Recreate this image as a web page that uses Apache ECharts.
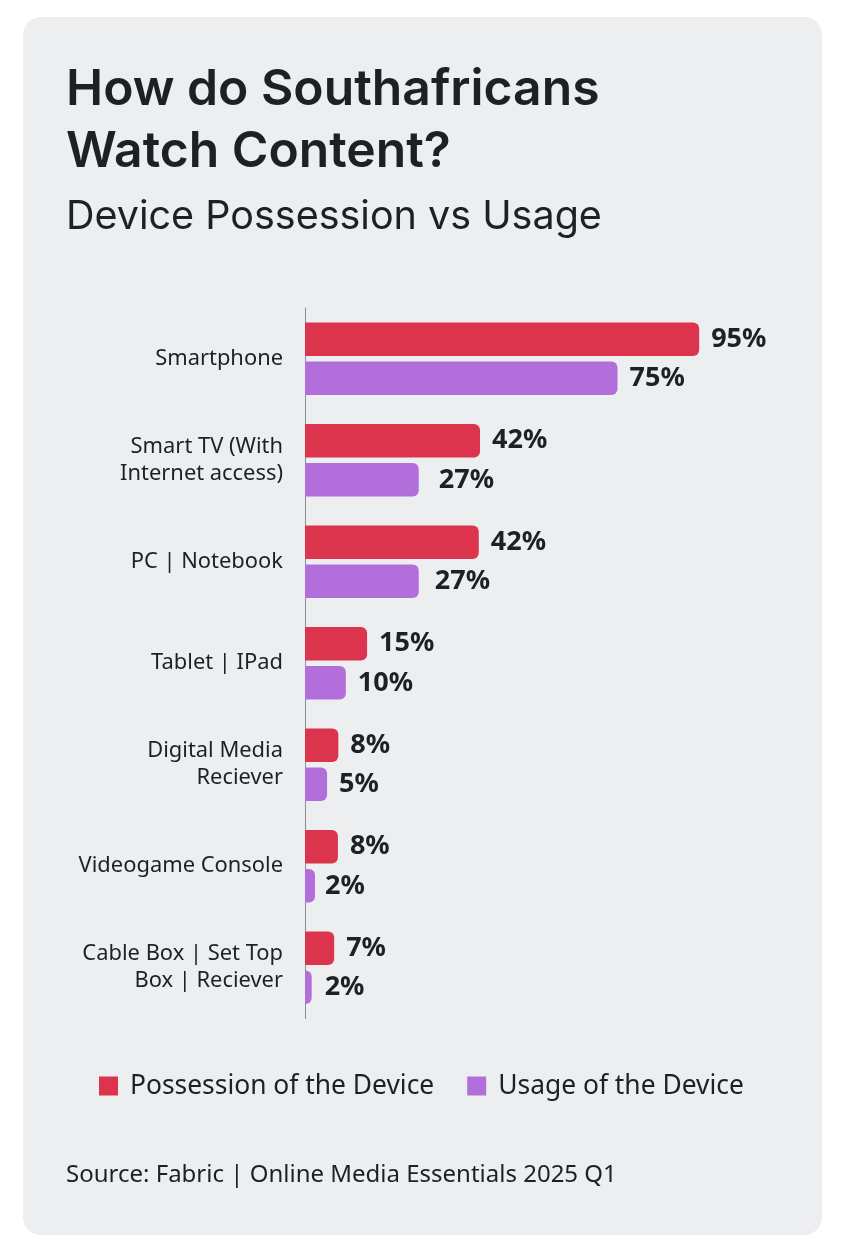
<!DOCTYPE html>
<html>
<head>
<meta charset="utf-8">
<style>
  html, body { margin: 0; padding: 0; background: #ffffff; }
  #chart { width: 845px; height: 1253px; }
</style>
</head>
<body>
<div id="chart"></div>
<script src="https://cdn.jsdelivr.net/npm/echarts@6/dist/echarts.min.js"></script>
<script>
const categories = [
  'Smartphone',
  'Smart TV (With\nInternet access)',
  'PC | Notebook',
  'Tablet | IPad',
  'Digital Media\nReciever',
  'Videogame Console',
  'Cable Box | Set Top\nBox | Reciever',
];
// bar lengths as drawn, the printed labels are rounded differently
const possession = [94.6, 42, 41.7, 14.9, 8, 7.9, 7];
const usage = [75, 27.3, 27.3, 9.8, 5.3, 2.4, 1.6];
const possessionLabels = ['95%', '42%', '42%', '15%', '8%', '8%', '7%'];
const usageLabels = ['75%', '27%', '27%', '10%', '5%', '2%', '2%'];

const RED = '#dc344c';
const PURPLE = '#b26fdc';
const INK = '#1d2025';
const UI_FONT = 'Inter, sans-serif';
const LABEL_FONT = '"Noto Sans", sans-serif';

// the two 27% labels sit further from their bars than the others
const labelDistance = (name, i) => (name.startsWith('Usage') ? [12, 20, 16, 12, 12, 10, 13][i] : 12);

const barSeries = (name, values, labels, color) => ({
  name,
  type: 'bar',
  data: values.map((value, i) => ({ value, label: { distance: labelDistance(name, i) } })),
  barWidth: 33.5,
  barGap: '17%',
  itemStyle: { color, borderRadius: [0, 6, 6, 0] },
  label: {
    show: true,
    position: 'right',
    color: INK,
    fontFamily: LABEL_FONT,
    fontWeight: 700,
    fontSize: 27,
    formatter: (p) => labels[p.dataIndex],
  },
});

const chart = echarts.init(document.getElementById('chart'), null, { renderer: 'canvas' });
chart.setOption({
  animation: false,
  backgroundColor: '#ffffff',
  graphic: [
    {
      type: 'rect',
      z: -10,
      shape: { x: 23, y: 17, width: 799, height: 1218, r: 18 },
      style: { fill: '#edeef0' },
    },
  ],
  title: [
    {
      text: 'How do Southafricans\nWatch Content?',
      left: 66,
      top: 59,
      padding: 0,
      textStyle: { fontFamily: UI_FONT, fontWeight: 600, fontSize: 49.8, lineHeight: 62, color: INK },
    },
    {
      text: 'Device Possession vs Usage',
      left: 66,
      top: 197,
      padding: 0,
      textStyle: { fontFamily: UI_FONT, fontWeight: 400, fontSize: 39.5, color: INK },
    },
    {
      text: 'Source: Fabric | Online Media Essentials 2025 Q1',
      left: 66,
      top: 1163,
      padding: 0,
      textStyle: { fontFamily: LABEL_FONT, fontWeight: 400, fontSize: 24, color: INK },
    },
  ],
  legend: {
    left: 99,
    top: 1073,
    padding: 0,
    itemWidth: 19,
    itemHeight: 19,
    itemGap: 33,
    icon: 'rect',
    textStyle: { fontFamily: LABEL_FONT, fontSize: 26.4, color: INK, padding: [0, 0, 0, 7] },
  },
  grid: { left: 305, top: 308, width: 500, height: 710.5 },
  xAxis: { type: 'value', min: 0, max: 120, show: false },
  yAxis: {
    type: 'category',
    inverse: true,
    data: categories,
    axisLine: { show: true, lineStyle: { color: '#8c8c98', width: 1 } },
    axisTick: { show: false },
    axisLabel: {
      margin: 22,
      align: 'right',
      fontFamily: LABEL_FONT,
      fontSize: 21.9,
      lineHeight: 27,
      padding: [3, 0, 0, 0],
      color: INK,
    },
  },
  series: [
    barSeries('Possession of the Device', possession, possessionLabels, RED),
    barSeries('Usage of the Device', usage, usageLabels, PURPLE),
  ],
});
</script>
</body>
</html>
